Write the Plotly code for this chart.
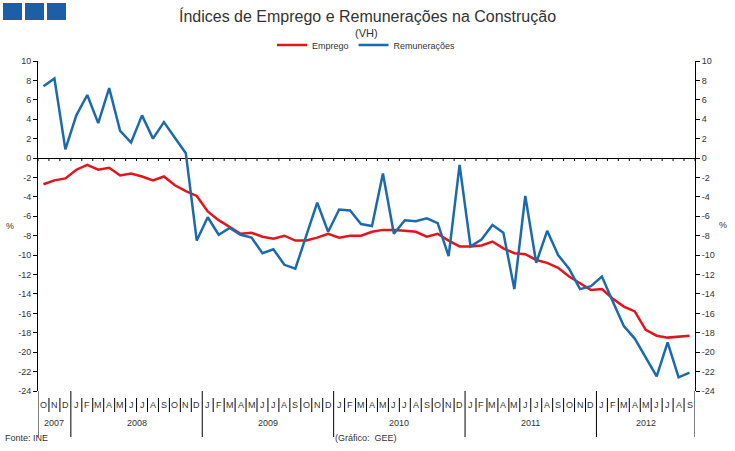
import plotly.graph_objects as go

# ---------------- data ----------------
months = (["O", "N", "D"]
          + ["J", "F", "M", "A", "M", "J", "J", "A", "S", "O", "N", "D"] * 4
          + ["J", "F", "M", "A", "M", "J", "J", "A", "S"])
years = ["2007", "2008", "2009", "2010", "2011", "2012"]
year_counts = [3, 12, 12, 12, 12, 9]

emprego = [
    -2.7, -2.3, -2.1,
    -1.2, -0.7, -1.2, -1.0, -1.8, -1.6, -1.9, -2.3, -1.9, -2.8, -3.4, -3.9,
    -5.5, -6.4, -7.1, -7.8, -7.7, -8.1, -8.3, -8.0, -8.5, -8.5, -8.2, -7.8,
    -8.2, -8.0, -8.0, -7.6, -7.4, -7.4, -7.5, -7.6, -8.1, -7.8, -8.5, -9.1,
    -9.1, -9.0, -8.6, -9.3, -9.8, -9.9, -10.5, -10.8, -11.3, -12.2, -12.9, -13.6,
    -13.5, -14.5, -15.3, -15.8, -17.7, -18.3, -18.5, -18.4, -18.3,
]
remuneracoes = [
    7.4, 8.2, 0.9,
    4.4, 6.5, 3.6, 7.2, 2.8, 1.6, 4.4, 2.0, 3.7, 2.1, 0.5, -8.5,
    -6.1, -7.9, -7.2, -7.9, -8.2, -9.8, -9.4, -11.0, -11.4, -8.0, -4.6, -7.6,
    -5.3, -5.4, -6.8, -7.0, -1.6, -7.8, -6.4, -6.5, -6.2, -6.7, -10.1, -0.7,
    -9.1, -8.4, -6.9, -7.7, -13.5, -3.9, -10.8, -7.5, -10.0, -11.4, -13.5, -13.2,
    -12.2, -14.8, -17.3, -18.6, -20.6, -22.5, -19.0, -22.6, -22.1,
]
y_ticks = list(range(-24, 11, 2))
y_tick_text = [str(v) for v in y_ticks]
y_min, y_max = -24, 10

# ---------------- styling ----------------
RED = "#E3141C"
BLUE = "#1C6AAE"
SQUARE = "#1D5FA6"
TXT = "#333333"
FONT = "Liberation Sans, Arial, sans-serif"

W, H = 735, 451
ML, MR, MT, MB = 38, 40, 61, 60
PW, PH = W - ML - MR, H - MT - MB


def px_to_py(py):
    """pixel y -> paper y"""
    return (H - MB - py) / PH


def px_to_px(px):
    """pixel x -> paper x"""
    return (px - ML) / PW


x = list(range(len(months)))
n = len(months)

fig = go.Figure()
fig.add_trace(go.Scatter(x=x, y=emprego, name="Emprego", mode="lines",
                         line=dict(color=RED, width=2.5)))
fig.add_trace(go.Scatter(x=x, y=remuneracoes, name="Remunerações", mode="lines",
                         line=dict(color=BLUE, width=2.5), yaxis="y2"))

axis_common = dict(range=[y_min, y_max], tickvals=y_ticks, ticktext=y_tick_text,
                   ticks="outside", ticklen=4, tickcolor="#000", showline=True,
                   linecolor="#000", linewidth=1, showgrid=False,
                   automargin=False,
                   tickfont=dict(size=9, color=TXT, family=FONT))

shapes = []
# blue squares top-left
for x0, x1 in [(3, 22), (25, 44), (47, 66)]:
    shapes.append(dict(type="rect", xref="paper", yref="paper",
                       x0=px_to_px(x0), x1=px_to_px(x1),
                       y0=px_to_py(20), y1=px_to_py(3),
                       fillcolor=SQUARE, line=dict(width=0), layer="above"))

zero_p = (0 - y_min) / (y_max - y_min)
# ticks on the zero line at month boundaries
for k in range(n + 1):
    shapes.append(dict(type="line", xref="x", yref="paper",
                       x0=k - 0.5, x1=k - 0.5, y0=zero_p, y1=zero_p - 3 / PH,
                       line=dict(color="#000", width=1)))

# category separators at bottom
year_starts = []
acc = 0
for c in year_counts:
    year_starts.append(acc)
    acc += c
for k in range(n + 1):
    if k in year_starts or k == n:
        y0, y1 = px_to_py(391), px_to_py(437)
    else:
        y0, y1 = px_to_py(398), px_to_py(412)
    shapes.append(dict(type="line", xref="x", yref="paper",
                       x0=k - 0.5, x1=k - 0.5, y0=y0, y1=y1,
                       line=dict(color="#000", width=1)))

annotations = []
for i, m in enumerate(months):
    annotations.append(dict(x=i, y=px_to_py(405), xref="x", yref="paper",
                            text=m, showarrow=False, yanchor="middle",
                            font=dict(size=9, color=TXT, family=FONT)))
acc = 0
for yname, c in zip(years, year_counts):
    annotations.append(dict(x=acc + (c - 1) / 2, y=px_to_py(423), xref="x",
                            yref="paper", text=yname, showarrow=False,
                            yanchor="middle",
                            font=dict(size=9, color=TXT, family=FONT)))
    acc += c

annotations += [
    dict(x=0.5, y=px_to_py(33), xref="paper", yref="paper", text="(VH)",
         showarrow=False, yanchor="middle",
         font=dict(size=11, color=TXT, family=FONT)),
    dict(x=px_to_px(10), y=px_to_py(226), xref="paper", yref="paper", text="%",
         showarrow=False, yanchor="middle", xanchor="center",
         font=dict(size=9, color=TXT, family=FONT)),
    dict(x=px_to_px(723), y=px_to_py(225), xref="paper", yref="paper", text="%",
         showarrow=False, yanchor="middle", xanchor="center",
         font=dict(size=9, color=TXT, family=FONT)),
    dict(x=px_to_px(3), y=px_to_py(438), xref="paper", yref="paper",
         text="Fonte: INE", showarrow=False, xanchor="left", yanchor="middle",
         font=dict(size=9, color=TXT, family=FONT)),
    dict(x=px_to_px(333), y=px_to_py(438), xref="paper", yref="paper",
         text="(Gráfico:  GEE)", showarrow=False, xanchor="left",
         yanchor="middle", font=dict(size=9, color=TXT, family=FONT)),
]

fig.update_layout(
    width=W, height=H,
    margin=dict(l=ML, r=MR, t=MT, b=MB, pad=0, autoexpand=False),
    paper_bgcolor="white", plot_bgcolor="white",
    font=dict(family=FONT, color=TXT),
    title=dict(text="Índices de Emprego e Remunerações na Construção",
               x=0.5, xanchor="center", y=1 - 16 / H, yanchor="middle",
               font=dict(size=16, color=TXT, family=FONT)),
    showlegend=True,
    legend=dict(orientation="h", x=0.5, xanchor="center",
                y=px_to_py(45), yanchor="middle",
                font=dict(size=9, color=TXT, family=FONT),
                bgcolor="rgba(0,0,0,0)", itemwidth=30,
                tracegroupgap=0),
    xaxis=dict(range=[-0.5, n - 0.5], showticklabels=False, ticks="",
               showline=False, showgrid=False, zeroline=False),
    yaxis=dict(**axis_common, zeroline=True, zerolinecolor="#000",
               zerolinewidth=1),
    yaxis2=dict(**axis_common, overlaying="y", side="right", zeroline=False),
    shapes=shapes,
    annotations=annotations,
)

fig.write_html("out.html",
               config={"displayModeBar": False},
               post_script="document.body.style.margin='0';"
                           "document.body.style.padding='0';")
